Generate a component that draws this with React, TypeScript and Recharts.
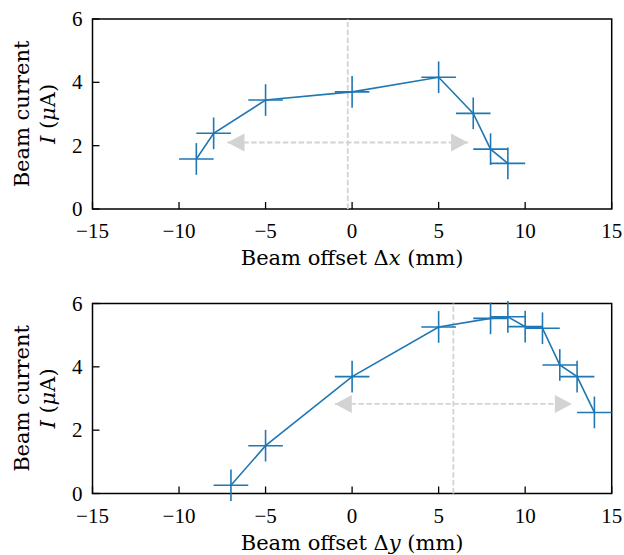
import React from 'react';
import { ScatterChart, Scatter, XAxis, YAxis, ErrorBar, ReferenceLine, ReferenceArea } from 'recharts';

// ---- Data ----
const xScanOffset = [-9, -8, -5, 0, 5, 7, 8, 9];
const xScanCurrent = [1.58, 2.39, 3.44, 3.7, 4.16, 3.02, 1.89, 1.44];
const yScanOffset = [-7, -5, 0, 5, 8, 9, 10, 11, 12, 13, 14];
const yScanCurrent = [0.26, 1.51, 3.69, 5.26, 5.53, 5.58, 5.27, 5.22, 4.06, 3.69, 2.56];
const offsetErr = 1;
const currentErr = 0.5;

const xCentre = -0.25;
const xArrowEnds = [-7.2, 6.7];
const xArrowLevel = 2.1;
const yCentre = 5.85;
const yArrowEnds = [-1.0, 12.7];
const yArrowLevel = 2.83;

const xTicks = [-15, -10, -5, 0, 5, 10, 15];
const yTicks = [0, 2, 4, 6];

// ---- Styles ----
const BLUE = '#1f77b4';
const GREY = '#d3d3d3';
const LABEL_FONT = "'DejaVu Serif', serif";
const TICK_FONT = "'Liberation Serif', serif";
const W = 624;
const LEFT = 92.5;
const RIGHT = W - 611.7;
const PLOT_H = 190;

const fmt = (v: number) => (v < 0 ? '\u2212' + Math.abs(v) : String(v));

const XTick = (props: any) => {
  const { x, y, payload } = props;
  return (
    <g>
      <line x1={x} x2={x} y1={y} y2={y - 7} stroke="#000" strokeWidth={1.3} />
      <text x={x} y={y + 29} textAnchor="middle" fontFamily={TICK_FONT} fontSize={21} fill="#000">
        {fmt(payload.value)}
      </text>
    </g>
  );
};

const YTick = (props: any) => {
  const { x, y, payload } = props;
  return (
    <g>
      <line x1={x} x2={x + 7} y1={y} y2={y} stroke="#000" strokeWidth={1.3} />
      <text x={x - 10} y={y + 7} textAnchor="end" fontFamily={TICK_FONT} fontSize={21} fill="#000">
        {fmt(payload.value)}
      </text>
    </g>
  );
};

const Triangle = (props: any) => {
  const { cx, cy, payload } = props;
  if (cx == null || cy == null) return <g />;
  const d = payload.dir;
  const L = 17;
  const H = 9;
  const pts = `${cx},${cy} ${cx - d * L},${cy - H} ${cx - d * L},${cy + H}`;
  return <polygon points={pts} fill={GREY} stroke="none" />;
};

const Empty = () => <g />;

type PanelProps = {
  offsets: number[];
  currents: number[];
  centre: number;
  arrowEnds: number[];
  arrowLevel: number;
  axisVar: string;
  height: number;
  top: number;
};

const Panel = ({ offsets, currents, centre, arrowEnds, arrowLevel, axisVar, height, top }: PanelProps) => {
  const data = offsets.map((o, i) => ({ x: o, y: currents[i], xErr: offsetErr, yErr: currentErr }));
  const arrow = arrowEnds.map((a, i) => ({ x: a, y: arrowLevel, dir: i === 0 ? -1 : 1 }));
  const xAxisH = height - top - PLOT_H;
  const plotCy = top + PLOT_H / 2;
  const plotCx = LEFT + (W - LEFT - RIGHT) / 2;
  const spineY = top + PLOT_H;

  return (
    <ScatterChart width={W} height={height} margin={{ top, right: RIGHT, bottom: 0, left: 0 }}>
      <XAxis
        type="number"
        dataKey="x"
        domain={[-15, 15]}
        ticks={xTicks}
        interval={0}
        allowDataOverflow
        axisLine={false}
        tickLine={false}
        tickSize={0}
        tickMargin={0}
        tick={<XTick />}
        height={xAxisH}
        label={{
          content: () => (
            <text x={plotCx} y={spineY + 56} textAnchor="middle" fontFamily={LABEL_FONT} fontSize={21} fill="#000">
              Beam offset Δ<tspan fontStyle="italic">{axisVar}</tspan> (mm)
            </text>
          ),
        }}
      />
      <YAxis
        type="number"
        dataKey="y"
        domain={[0, 6]}
        ticks={yTicks}
        interval={0}
        allowDataOverflow
        axisLine={false}
        tickLine={false}
        tickSize={0}
        tickMargin={0}
        tick={<YTick />}
        width={LEFT}
        label={{
          content: () => (
            <g fontFamily={LABEL_FONT} fontSize={21} fill="#000">
              <text x={22} y={plotCy} transform={`rotate(-90 22 ${plotCy})`} textAnchor="middle" dominantBaseline="central">
                Beam current
              </text>
              <text x={48} y={plotCy} transform={`rotate(-90 48 ${plotCy})`} textAnchor="middle" dominantBaseline="central">
                <tspan fontStyle="italic">I</tspan> (<tspan fontStyle="italic">μ</tspan>A)
              </text>
            </g>
          ),
        }}
      />
      <ReferenceLine x={centre} stroke={GREY} strokeWidth={1.8} strokeDasharray="5.5 2.4" />
      <Scatter
        data={arrow}
        isAnimationActive={false}
        fill={GREY}
        line={{ stroke: GREY, strokeWidth: 1.8, strokeDasharray: '5.5 2.4' }}
        shape={<Triangle />}
      />
      <Scatter
        data={data}
        isAnimationActive={false}
        fill={BLUE}
        stroke={BLUE}
        line={{ stroke: BLUE, strokeWidth: 1.6 }}
        shape={<Empty />}
      >
        <ErrorBar dataKey="xErr" direction="x" width={0} stroke={BLUE} strokeWidth={1.6} />
        <ErrorBar dataKey="yErr" direction="y" width={0} stroke={BLUE} strokeWidth={1.6} />
      </Scatter>
      <ReferenceArea x1={-15} x2={15} y1={0} y2={6} fill="none" fillOpacity={0} stroke="#000" strokeWidth={1.5} />
    </ScatterChart>
  );
};

export default function App() {
  return (
    <div style={{ position: 'absolute', left: 0, top: 0, width: W, height: 555, background: '#fff' }}>
      <Panel
        offsets={xScanOffset}
        currents={xScanCurrent}
        centre={xCentre}
        arrowEnds={xArrowEnds}
        arrowLevel={xArrowLevel}
        axisVar="x"
        height={280}
        top={19}
      />
      <Panel
        offsets={yScanOffset}
        currents={yScanCurrent}
        centre={yCentre}
        arrowEnds={yArrowEnds}
        arrowLevel={yArrowLevel}
        axisVar="y"
        height={275}
        top={23.5}
      />
    </div>
  );
}
